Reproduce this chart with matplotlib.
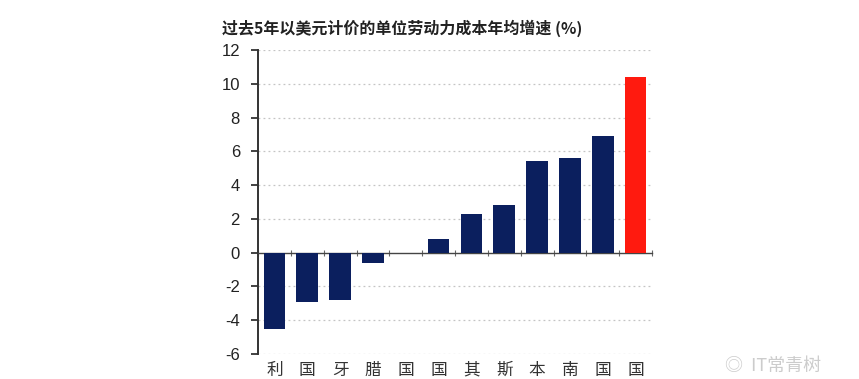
import matplotlib
matplotlib.use("Agg")
import matplotlib.pyplot as plt
from matplotlib.transforms import blended_transform_factory

plt.rcParams["font.family"] = ["Noto Sans CJK SC", "DejaVu Sans"]

# values (ascending), last one highlighted
labels = ["利", "国", "牙", "腊", "国", "国", "其", "斯", "本", "南", "国", "国"]
values = [-4.5, -2.9, -2.8, -0.6, 0.0, 0.8, 2.3, 2.8, 5.4, 5.6, 6.9, 10.4]
colors = ["#0b1f5e"] * 11 + ["#ff1a0f"]
yticks = [-6, -4, -2, 0, 2, 4, 6, 8, 10, 12]

fig = plt.figure(figsize=(8.59, 3.79), dpi=100)
ax = fig.add_axes([0.3004, 0.066, 0.4587, 0.802])

x = list(range(len(values)))
ax.bar(x, values, width=0.66, color=colors, zorder=3)

for v in yticks:
    if v != 0:
        ax.axhline(v, color="#c4c4c4", linestyle=(0, (1.5, 2.5)), linewidth=0.9, zorder=1)

ax.set_xlim(-0.5, len(values) - 0.5)
ax.set_ylim(-6, 12)
ax.set_yticks(yticks)
ax.set_yticklabels([str(v) for v in yticks], family="Liberation Sans", fontsize=12)

ax.spines["top"].set_visible(False)
ax.spines["right"].set_visible(False)
ax.spines["bottom"].set_position(("data", 0))
ax.spines["left"].set_linewidth(1.4)
ax.spines["left"].set_color("#333333")
ax.spines["bottom"].set_linewidth(1.0)
ax.spines["bottom"].set_color("#444444")
ax.tick_params(axis="y", direction="out", length=5, width=1.2, pad=8, colors="#222222")
ax.set_xticks([i - 0.5 for i in range(len(values) + 1)])
ax.set_xticklabels([])
ax.tick_params(axis="x", direction="inout", length=5, width=0.8, colors="#666666")

trans = blended_transform_factory(ax.transData, fig.transFigure)
for i, lab in enumerate(labels):
    ax.text(i, 0.045, lab, transform=trans, ha="center", va="top",
            fontsize=12, color="#333333", clip_on=False)

fig.text(0.258, 0.925, "过去5年以美元计价的单位劳动力成本年均增速 (%)",
         fontsize=11.5, fontweight="bold", color="#222222", ha="left", va="center")

fig.text(0.9, 0.035, "◎  IT常青树", fontsize=13, color="#cccccc",
         ha="center", va="center")

fig.savefig("out.png", dpi=100)
